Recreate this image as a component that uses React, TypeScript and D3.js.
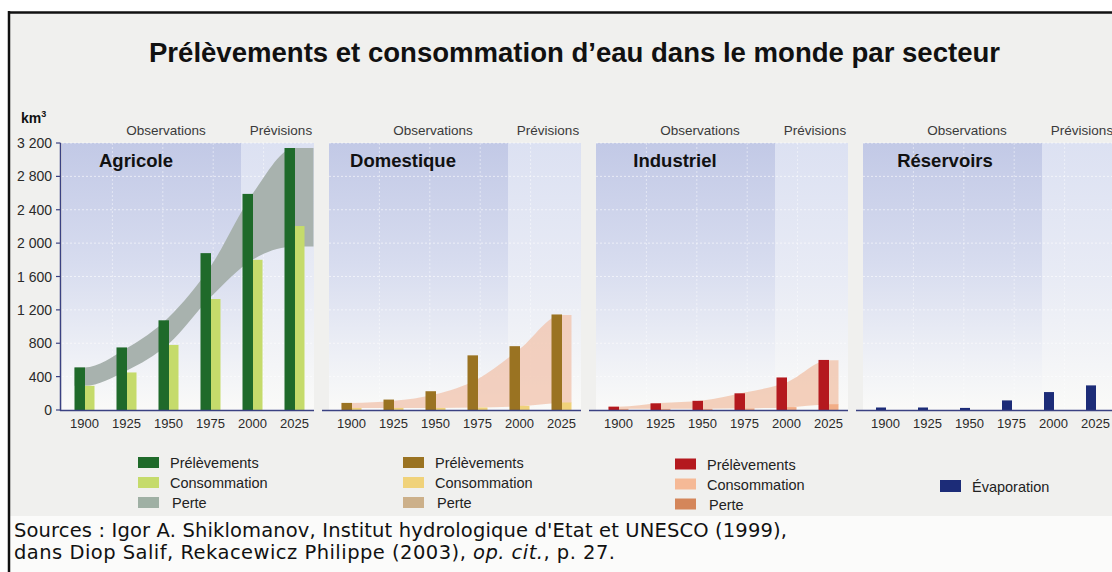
import React from "react";
import * as d3 from "d3";

// ---------- Data (km³) ----------
const years = ["1900", "1925", "1950", "1975", "2000", "2025"];
const yTicks = [0, 400, 800, 1200, 1600, 2000, 2400, 2800, 3200];

const agriPrelevements = [510, 750, 1075, 1880, 2590, 3140];
const agriConsommation = [290, 450, 780, 1330, 1800, 2205];
const agriPerteHaut = [510, 740, 1110, 1720, 2590, 3140];
const agriPerteBas = [290, 470, 790, 1350, 1800, 1960];

const domPrelevements = [85, 125, 225, 655, 765, 1145];
const domConsommation = [25, 25, 25, 30, 50, 90];
const domPerteHaut = [85, 110, 190, 370, 730, 1140];
const domPerteBas = [25, 25, 25, 30, 45, 85];

const indPrelevements = [40, 80, 110, 200, 390, 600];
const indConsommation = [15, 15, 15, 20, 35, 70];
const indPerteHaut = [40, 85, 115, 210, 330, 595];
const indPerteBas = [15, 15, 15, 20, 30, 65];

const resEvaporation = [30, 30, 25, 115, 215, 295];

const panelNames = ["Agricole", "Domestique", "Industriel", "Réservoirs"];
const periodLabels = ["Observations", "Prévisions"];
const legendLabels = ["Prélèvements", "Consommation", "Perte"];
const legendEvap = "Évaporation";
const title = "Prélèvements et consommation d’eau dans le monde par secteur";
const unit = "km";
const sourceLine1 = "Sources : Igor A. Shiklomanov, Institut hydrologique d'Etat et UNESCO (1999),";

const FONT = "'Liberation Sans', Arial, Helvetica, sans-serif";

export default function App() {
  const W = 1112;
  const H = 572;
  const y = d3.scaleLinear().domain([0, 3200]).range([410, 143]);
  const fmt = d3
    .formatLocale({ decimal: ",", thousands: " ", grouping: [3], currency: ["", ""] })
    .format(",");

  const panelW = 252;
  const obsW = 179;

  const panels = [
    {
      name: panelNames[0], left: 62, titleCx: 74,
      bars: [
        { values: agriPrelevements, color: "#1f6a2a", dx: -10, w: 10.5 },
        { values: agriConsommation, color: "#c5db6b", dx: 0.5, w: 9.5 },
      ],
      band: { hi: agriPerteHaut, lo: agriPerteBas, color: "#a8b2ae", opacity: 1, endDx: 19 },
    },
    {
      name: panelNames[1], left: 329, titleCx: 74,
      bars: [
        { values: domPrelevements, color: "#9a7322", dx: -10, w: 10.5 },
        { values: domConsommation, color: "#f0d27a", dx: 0.5, w: 9.5 },
      ],
      band: { hi: domPerteHaut, lo: domPerteBas, color: "#f1c6b0", opacity: 0.8, endDx: 10 },
    },
    {
      name: panelNames[2], left: 596, titleCx: 79,
      bars: [
        { values: indPrelevements, color: "#b4191e", dx: -10, w: 10.5 },
        { values: indConsommation, color: "#f2ad86", dx: 0.5, w: 9.5 },
      ],
      band: { hi: indPerteHaut, lo: indPerteBas, color: "#f1c4ab", opacity: 0.8, endDx: 10 },
    },
    {
      name: panelNames[3], left: 863, titleCx: 82,
      bars: [{ values: resEvaporation, color: "#1c2c78", dx: -9.5, w: 10 }],
      band: null as any,
    },
  ];

  const legends = [
    { x: 138, dy: 0, colors: ["#1f6a2a", "#c5db6b", "#9fb0a4"], labels: legendLabels },
    { x: 403, dy: 0, colors: ["#9a7322", "#f0d27a", "#ccb08a"], labels: legendLabels },
    { x: 675, dy: 1.5, colors: ["#b4191e", "#f5b996", "#d4865a"], labels: legendLabels },
  ];

  const gridY = yTicks.slice(1);

  return (
    <div style={{ position: "absolute", left: 0, top: 0 }}>
      <svg width={W} height={H} style={{ display: "block", fontFamily: FONT }}>
        <defs>
          <linearGradient id="gObs" x1="0" y1="0" x2="0" y2="1">
            <stop offset="0" stopColor="#c2c9e6" />
            <stop offset="0.45" stopColor="#d7dcef" />
            <stop offset="0.8" stopColor="#eef0f6" />
            <stop offset="1" stopColor="#fafaf8" />
          </linearGradient>
          <linearGradient id="gPrev" x1="0" y1="0" x2="0" y2="1">
            <stop offset="0" stopColor="#dce1f2" />
            <stop offset="0.5" stopColor="#e8ebf5" />
            <stop offset="1" stopColor="#fafaf8" />
          </linearGradient>
        </defs>

        {/* page */}
        <rect x={0} y={0} width={W} height={H} fill="#ffffff" />
        <rect x={9} y={12} width={W - 9} height={504} fill="#f0f0ee" />
        <rect x={9} y={516} width={W - 9} height={H - 516} fill="#fbfbfa" />
        <line x1={8} x2={W} y1={12.5} y2={12.5} stroke="#111" strokeWidth={2.5} />
        <line x1={9} x2={9} y1={11} y2={H} stroke="#111" strokeWidth={2.5} />

        {/* title */}
        <text x={149} y={62} fontSize={27} fontWeight="bold" fill="#111"
          textLength={851} lengthAdjust="spacingAndGlyphs">{title}</text>

        {/* unit */}
        <text x={21} y={123} fontSize={14} fontWeight="bold" fill="#111">
          {unit}
          <tspan fontSize={9} dy={-6}>3</tspan>
        </text>

        {panels.map((p, pi) => {
          const x = d3.scaleBand<string>().domain(years).range([p.left + 1.5, p.left + 253.5]).padding(0);
          const cx = (yr: string) => (x(yr) as number) + x.bandwidth() / 2;
          const top = y(3200);
          const bottom = y(0);
          const vx = d3.range(1, 5).map((k) => p.left + (panelW / 5) * k);
          let bandPath: string | null = null;
          if (p.band) {
            const pts = years.map((yr, i) => ({ x: cx(yr), hi: p.band.hi[i], lo: p.band.lo[i] }));
            const n = pts.length - 1;
            const all = [
              { x: pts[0].x - 10, hi: pts[0].hi, lo: pts[0].lo },
              ...pts,
              { x: pts[n].x + p.band.endDx, hi: pts[n].hi, lo: pts[n].lo },
            ];
            bandPath = d3
              .area<any>()
              .x((d) => d.x)
              .y0((d) => y(d.lo))
              .y1((d) => y(d.hi))
              .curve(d3.curveMonotoneX)(all);
          }
          const axisX1 = pi === 0 ? 60 : p.left - 7;
          const axisX2 = Math.min(p.left + panelW, W);
          return (
            <g key={p.name}>
              <rect x={p.left} y={top} width={obsW} height={bottom - top} fill="url(#gObs)" />
              <rect x={p.left + obsW} y={top} width={panelW - obsW} height={bottom - top} fill="url(#gPrev)" />
              {gridY.map((t) => (
                <line key={"h" + t} x1={p.left} x2={p.left + panelW} y1={y(t)} y2={y(t)}
                  stroke="#ffffff" strokeOpacity={0.75} strokeWidth={0.8} strokeDasharray="2,2" />
              ))}
              {vx.map((v) => (
                <line key={"v" + v} x1={v} x2={v} y1={top} y2={bottom}
                  stroke="#ffffff" strokeOpacity={0.6} strokeWidth={0.8} strokeDasharray="2,2" />
              ))}
              {bandPath && <path d={bandPath} fill={p.band.color} fillOpacity={p.band.opacity} />}
              {p.bars.map((s, si) =>
                years.map((yr, i) => (
                  <rect key={si + "-" + yr} x={cx(yr) + s.dx} width={s.w}
                    y={y(s.values[i])} height={y(0) - y(s.values[i])} fill={s.color} />
                ))
              )}
              <line x1={axisX1} x2={axisX2} y1={bottom + 0.5} y2={bottom + 0.5} stroke="#3a4182" strokeWidth={1.5} />
              {years.map((yr) => (
                <text key={"t" + yr} x={cx(yr)} y={428} fontSize={13} textAnchor="middle" fill="#2a2a2a">{yr}</text>
              ))}
              <text x={p.left + 104} y={135} fontSize={13.5} textAnchor="middle" fill="#3a3a3a">{periodLabels[0]}</text>
              <text x={p.left + 219} y={135} fontSize={13.5} textAnchor="middle" fill="#3a3a3a">{periodLabels[1]}</text>
              <text x={p.left + p.titleCx} y={167} fontSize={18.5} fontWeight="bold" textAnchor="middle" fill="#111">{p.name}</text>
            </g>
          );
        })}

        {/* y axis */}
        <line x1={60.5} x2={60.5} y1={y(3200)} y2={y(0) + 1} stroke="#3a4182" strokeWidth={1.5} />
        {yTicks.map((t) => (
          <g key={"yt" + t}>
            <line x1={56} x2={60.5} y1={y(t)} y2={y(t)} stroke="#3a4182" strokeWidth={1.2} />
            <text x={52} y={y(t) + 5} fontSize={14} textAnchor="end" fill="#2a2a2a">{fmt(t)}</text>
          </g>
        ))}

        {/* legends */}
        {legends.map((lg, li) => (
          <g key={"lg" + li}>
            {lg.labels.map((lab, k) => (
              <g key={lab}>
                <rect x={lg.x} y={457 + lg.dy + 20 * k} width={21} height={11} fill={lg.colors[k]} />
                <text x={lg.x + 32 + (k === 2 ? 2 : 0)} y={468 + lg.dy + 20 * k} fontSize={14.5} fill="#222">{lab}</text>
              </g>
            ))}
          </g>
        ))}
        <rect x={940} y={480} width={21} height={12} fill="#1c2c78" />
        <text x={972} y={492} fontSize={14.5} fill="#222">{legendEvap}</text>

        {/* sources */}
        <text x={14} y={537} fontSize={19.5} fill="#111" fontFamily="'DejaVu Sans', Verdana, sans-serif"
          textLength={773} lengthAdjust="spacing">{sourceLine1}</text>
        <text x={14} y={559} fontSize={19.5} fill="#111" fontFamily="'DejaVu Sans', Verdana, sans-serif"
          textLength={601} lengthAdjust="spacing">
          {"dans Diop Salif, Rekacewicz Philippe (2003), "}
          <tspan fontStyle="italic">op. cit.</tspan>
          {", p. 27."}
        </text>
      </svg>
    </div>
  );
}
